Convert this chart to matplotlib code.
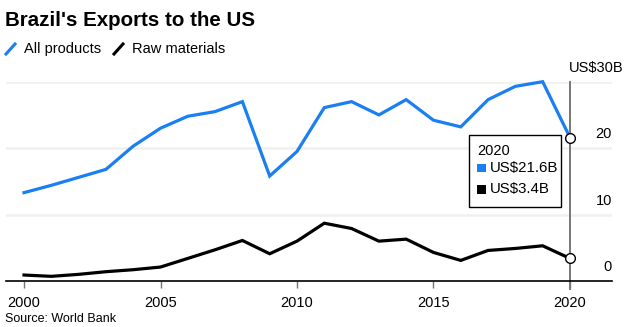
import matplotlib
matplotlib.use("Agg")
import matplotlib.pyplot as plt
from matplotlib.patches import Rectangle
from matplotlib.lines import Line2D

# Brazil's exports to the US, billions of US dollars
years = list(range(2000, 2021))
all_products = [13.3, 14.4, 15.6, 16.8, 20.3, 23.0, 24.8, 25.5, 27.0, 15.8, 19.5,
                26.1, 27.0, 25.0, 27.3, 24.2, 23.2, 27.3, 29.3, 30.0, 21.6]
raw_materials = [0.9, 0.7, 1.0, 1.4, 1.7, 2.1, 3.4, 4.7, 6.1, 4.1, 6.0,
                 8.7, 7.9, 6.0, 6.3, 4.3, 3.1, 4.6, 4.9, 5.3, 3.4]
series_names = ["All products", "Raw materials"]
x_ticks = [2000, 2005, 2010, 2015, 2020]
y_ticks = [0, 10, 20, 30]

BLUE = "#1a7ff2"
BLACK = "#000000"
GRID = "#f0f0f0"

W, H = 632, 327
fig = plt.figure(figsize=(W / 100, H / 100), dpi=100)
plt.rcParams["font.family"] = ["Liberation Sans", "DejaVu Sans"]


def fx(x):
    return x / W


def fy(y):
    return 1 - y / H


# plot area in pixels: left 6, right 612, top 81.7 (30), bottom 281 (0)
ax = fig.add_axes([fx(6), fy(281), fx(612) - fx(6), (281 - 81.7) / H])
ax.set_xlim(1999.34, 2021.54)
ax.set_ylim(0, 30)
for s in ["top", "right", "left"]:
    ax.spines[s].set_visible(False)
ax.spines["bottom"].set_color("#000000")
ax.spines["bottom"].set_linewidth(1.2)
ax.set_yticks([])
ax.set_xticks(x_ticks)
ax.set_xticklabels([str(t) for t in x_ticks], fontsize=10.5, color="#000000")
ax.tick_params(axis="x", length=5, width=1, color="#777777", pad=6)

for v in y_ticks[1:]:
    ax.axhline(v, color=GRID, lw=1.8, zorder=0)

# right-side value labels
for v in y_ticks:
    if v == 30:
        ax.annotate("US$30B", xy=(1.0, v), xycoords=("axes fraction", "data"),
                    xytext=(12, 14), textcoords="offset pixels",
                    ha="right", va="center", fontsize=10.5)
    else:
        ax.annotate(str(v), xy=(1.0, v), xycoords=("axes fraction", "data"),
                    xytext=(0, 14), textcoords="offset pixels",
                    ha="right", va="center", fontsize=10.5)

# hover line at the last year
ax.plot([years[-1], years[-1]], [30, 0], color="#777777", lw=1.4, zorder=2,
        clip_on=False)
ax.plot([years[-1], years[-1]], [0, -1.2], color="#777777", lw=1.4, zorder=2,
        clip_on=False)

ax.plot(years, all_products, color=BLUE, lw=2.3, zorder=3, clip_on=False,
        solid_joinstyle="miter")
ax.plot(years, raw_materials, color=BLACK, lw=2.3, zorder=3, clip_on=False,
        solid_joinstyle="miter")
ax.plot([years[-1]] * 2, [all_products[-1], raw_materials[-1]], "o",
        ms=7, mfc="white", mec="#000000", mew=1.0, zorder=5, clip_on=False)

# tooltip box
box = Rectangle((fx(469), fy(207)), fx(561) - fx(469), (207 - 135) / H,
                transform=fig.transFigure, facecolor="white",
                edgecolor="#000000", lw=1.0, zorder=10)
fig.patches.append(box)
fig.text(fx(477), fy(151), str(years[-1]), fontsize=10.5, va="center",
         ha="left", zorder=11)
for yy, col, val in [(168, BLUE, all_products[-1]), (189, BLACK, raw_materials[-1])]:
    fig.patches.append(Rectangle((fx(477), fy(yy + 4.5)), 9 / W, 9 / H,
                                 transform=fig.transFigure, facecolor=col,
                                 edgecolor="none", zorder=11))
    fig.text(fx(490), fy(yy), f"US${val}B", fontsize=10.8, va="center",
             ha="left", zorder=11)

# title and legend
fig.text(fx(5), fy(20), "Brazil's Exports to the US", fontsize=14.8,
         fontweight="bold", va="center", ha="left")
for x0, col, name in [(5, BLUE, series_names[0]), (113, BLACK, series_names[1])]:
    fig.lines.append(Line2D([fx(x0 + 1), fx(x0 + 10)], [fy(54), fy(44)],
                            transform=fig.transFigure, color=col, lw=2.2))
    fig.text(fx(x0 + 19), fy(49), name, fontsize=10.5, va="center", ha="left")

fig.text(fx(5), fy(319), "Source: World Bank", fontsize=9, va="center",
         ha="left", color="#000000")

fig.savefig("out.png", dpi=100)
